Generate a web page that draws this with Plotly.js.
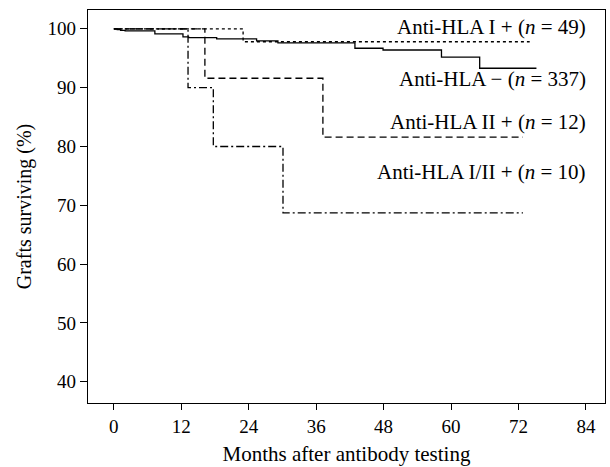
<!DOCTYPE html>
<html><head><meta charset="utf-8">
<script src="https://cdn.plot.ly/plotly-3.0.1.min.js"></script>
<style>body{margin:0;background:#fff}#chart{width:610px;height:467px}</style>
</head><body><div id="chart"></div>
<script>
// Anti-HLA − (n = 337)
const negMonths = [0, 0.6, 1.2, 2.0, 7.3, 12.3, 13.3, 18.3, 25.4, 29.2, 42.9, 47.9, 58.3, 65.1, 75.2];
const negSurv   = [100, 99.85, 99.75, 99.66, 99.15, 98.64, 98.5, 98.3, 97.96, 97.6, 96.7, 96.4, 95.2, 93.3, 93.3];
// Anti-HLA I + (n = 49)
const h1Months = [0, 23.0, 74.0];
const h1Surv   = [100, 97.8, 97.8];
// Anti-HLA II + (n = 12)
const h2Months = [0, 16.2, 37.2, 72.8];
const h2Surv   = [100, 91.6, 81.6, 81.6];
// Anti-HLA I/II + (n = 10)
const h12Months = [0, 13.2, 17.7, 30.1, 72.8];
const h12Surv   = [100, 90.0, 80.0, 68.7, 68.7];

const labels = ['Anti-HLA I + (<i>n</i> = 49)', 'Anti-HLA − (<i>n</i> = 337)', 'Anti-HLA II + (<i>n</i> = 12)', 'Anti-HLA I/II + (<i>n</i> = 10)'];
const labelY = [100.3, 91.4, 84.1, 75.6];

const xTicks = [0, 12, 24, 36, 48, 60, 72, 84];
const yTicks = [40, 50, 60, 70, 80, 90, 100];

const font = 'Liberation Serif, Times New Roman, serif';
const mk = (x, y, dash) => ({x, y, type: 'scatter', mode: 'lines', line: {shape: 'hv', color: '#000', width: 1.3, dash}, hoverinfo: 'skip'});

const data = [
  mk(h1Months, h1Surv, 'dot'),
  mk(negMonths, negSurv, 'solid'),
  mk(h2Months, h2Surv, '7px,4px'),
  mk(h12Months, h12Surv, '8px,3px,2px,3px')
];

const annotations = labels.map((t, i) => ({
  x: 84.4, y: labelY[i], xref: 'x', yref: 'y', text: t, showarrow: false,
  xanchor: 'right', yanchor: 'middle', font: {family: font, size: 21, color: '#000'}
}));

const layout = {
  width: 610, height: 467,
  margin: {l: 88, r: 5, t: 10, b: 64},
  paper_bgcolor: '#fff', plot_bgcolor: '#fff',
  showlegend: false,
  font: {family: font, size: 19, color: '#000'},
  xaxis: {
    range: [-4.6, 87.4], tickvals: xTicks, ticktext: xTicks.map(String),
    ticks: 'outside', ticklen: 6, tickwidth: 1, tickcolor: '#000',
    showline: true, linecolor: '#000', linewidth: 1.2, mirror: true,
    showgrid: false, zeroline: false,
    tickfont: {family: font, size: 19},
    title: {text: 'Months after antibody testing', font: {family: font, size: 21}, standoff: 10}
  },
  yaxis: {
    range: [36.4, 103.2], tickvals: yTicks, ticktext: yTicks.map(String),
    ticks: 'outside', ticklen: 7, tickwidth: 1, tickcolor: '#000',
    showline: true, linecolor: '#000', linewidth: 1.2, mirror: true,
    showgrid: false, zeroline: false,
    tickfont: {family: font, size: 19},
    title: {text: 'Grafts surviving (%)', font: {family: font, size: 20}, standoff: 10}
  },
  annotations
};

Plotly.newPlot('chart', data, layout, {staticPlot: true, displayModeBar: false});
</script>
</body></html>
